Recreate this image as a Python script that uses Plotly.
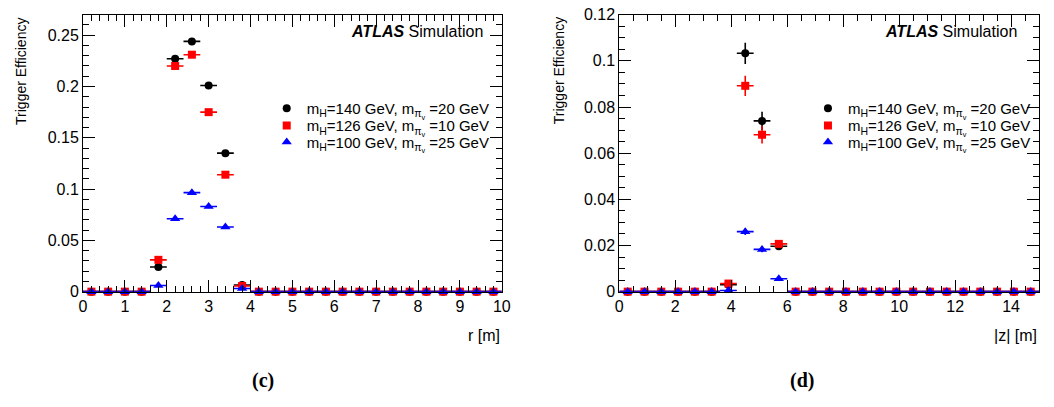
import plotly.graph_objects as go

# ---------------- data ----------------
r_centers = [0.2, 0.6, 1.0, 1.4, 1.8, 2.2, 2.6, 3.0, 3.4, 3.8, 4.2, 4.6, 5.0,
             5.4, 5.8, 6.2, 6.6, 7.0, 7.4, 7.8, 8.2, 8.6, 9.0, 9.4, 9.8]
r_halfwidth = 0.2

eff_r_140 = [0, 0, 0, 0, 0.024, 0.227, 0.244, 0.201, 0.135, 0.0065, 0, 0, 0,
             0, 0, 0, 0, 0, 0, 0, 0, 0, 0, 0, 0]
err_r_140 = [0, 0, 0, 0, 0.0015, 0.003, 0.003, 0.003, 0.0025, 0.0008, 0, 0, 0,
             0, 0, 0, 0, 0, 0, 0, 0, 0, 0, 0, 0]
eff_r_126 = [0, 0, 0, 0, 0.031, 0.220, 0.231, 0.175, 0.114, 0.0055, 0, 0, 0,
             0, 0, 0, 0, 0, 0, 0, 0, 0, 0, 0, 0]
err_r_126 = [0, 0, 0, 0, 0.0015, 0.003, 0.003, 0.003, 0.0025, 0.0008, 0, 0, 0,
             0, 0, 0, 0, 0, 0, 0, 0, 0, 0, 0, 0]
eff_r_100 = [0, 0, 0, 0, 0.006, 0.071, 0.0965, 0.083, 0.063, 0.003, 0, 0, 0,
             0, 0, 0, 0, 0, 0, 0, 0, 0, 0, 0, 0]
err_r_100 = [0, 0, 0, 0, 0.0008, 0.0015, 0.0018, 0.0016, 0.0014, 0.0005, 0, 0, 0,
             0, 0, 0, 0, 0, 0, 0, 0, 0, 0, 0, 0]

z_centers = [0.3, 0.9, 1.5, 2.1, 2.7, 3.3, 3.9, 4.5, 5.1, 5.7, 6.3, 6.9, 7.5,
             8.1, 8.7, 9.3, 9.9, 10.5, 11.1, 11.7, 12.3, 12.9, 13.5, 14.1, 14.7]
z_halfwidth = 0.3

eff_z_140 = [0, 0, 0, 0, 0, 0, 0.003, 0.1033, 0.074, 0.0197, 0, 0, 0,
             0, 0, 0, 0, 0, 0, 0, 0, 0, 0, 0, 0]
err_z_140 = [0, 0, 0, 0, 0, 0, 0.0007, 0.0046, 0.004, 0.0012, 0, 0, 0,
             0, 0, 0, 0, 0, 0, 0, 0, 0, 0, 0, 0]
eff_z_126 = [0, 0, 0, 0, 0, 0, 0.0035, 0.0892, 0.068, 0.0207, 0, 0, 0,
             0, 0, 0, 0, 0, 0, 0, 0, 0, 0, 0, 0]
err_z_126 = [0, 0, 0, 0, 0, 0, 0.0007, 0.0044, 0.0038, 0.0012, 0, 0, 0,
             0, 0, 0, 0, 0, 0, 0, 0, 0, 0, 0, 0]
eff_z_100 = [0, 0, 0, 0, 0, 0, 0.0005, 0.026, 0.0183, 0.0056, 0, 0, 0,
             0, 0, 0, 0, 0, 0, 0, 0, 0, 0, 0, 0]
err_z_100 = [0, 0, 0, 0, 0, 0, 0.0003, 0.0015, 0.0012, 0.0006, 0, 0, 0,
             0, 0, 0, 0, 0, 0, 0, 0, 0, 0, 0, 0]

labels = ["m<sub>H</sub>=140 GeV, m<sub>π<sub>v</sub></sub> =20 GeV",
          "m<sub>H</sub>=126 GeV, m<sub>π<sub>v</sub></sub> =10 GeV",
          "m<sub>H</sub>=100 GeV, m<sub>π<sub>v</sub></sub> =25 GeV"]
colors = ["#000000", "#ff0000", "#0000ff"]
symbols = ["circle", "square", "triangle-up"]
msizes = [8, 8, 9]

FONT = "Liberation Sans, Arial, sans-serif"
W, H = 1054, 407

fig = go.Figure()

def add_series(x, y, err, hw, i, xa, ya, leg):
    fig.add_trace(go.Scatter(
        x=x, y=y, mode="markers", name=labels[i], cliponaxis=False,
        marker=dict(symbol=symbols[i], size=msizes[i], color=colors[i], line=dict(width=0)),
        error_x=dict(type="constant", value=hw, color=colors[i], thickness=1.6, width=0),
        error_y=dict(type="data", array=err, color=colors[i], thickness=1.6, width=0),
        xaxis=xa, yaxis=ya, legend=leg, showlegend=True, hoverinfo="skip"))

for i, (y, e) in enumerate([(eff_r_140, err_r_140), (eff_r_126, err_r_126), (eff_r_100, err_r_100)]):
    add_series(r_centers, y, e, r_halfwidth, i, "x", "y", "legend" if i == 0 else "legend%d" % (i + 1))
for i, (y, e) in enumerate([(eff_z_140, err_z_140), (eff_z_126, err_z_126), (eff_z_100, err_z_100)]):
    add_series(z_centers, y, e, z_halfwidth, i, "x2", "y2", "legend%d" % (i + 4))

ydom = [1 - 296 / H, 1 - 7 / H]
axis_common = dict(showline=True, linecolor="black", linewidth=1, mirror="allticks",
                   ticks="inside", ticklen=12, tickcolor="black", tickwidth=1,
                   showgrid=False, zeroline=False, ticklabeloverflow="allow",
                   tickfont=dict(family=FONT, size=16, color="black"))

legend_rows = [105, 123, 140]
leg_layout = {}
for k in range(6):
    name = "legend" if k == 0 else "legend%d" % (k + 1)
    xl = 266 if k < 3 else 814
    leg_layout[name] = dict(x=xl / W, xanchor="left", y=1 - legend_rows[k % 3] / H, yanchor="middle",
                            bgcolor="rgba(0,0,0,0)", borderwidth=0, itemwidth=30,
                            font=dict(family=FONT, size=15, color="black"))

fig.update_layout(
    width=W, height=H, autosize=False,
    margin=dict(l=0, r=0, t=0, b=0),
    paper_bgcolor="white", plot_bgcolor="white",
    xaxis=dict(domain=[80 / W, 504 / W], range=[0, 10], anchor="y", tick0=0, dtick=1,
               minor=dict(dtick=0.2, ticks="inside", ticklen=6, tickcolor="black", showgrid=False),
               **axis_common),
    yaxis=dict(domain=ydom, range=[0, 0.27], anchor="x", tick0=0, dtick=0.05,
               minor=dict(dtick=0.01, ticks="inside", ticklen=6, tickcolor="black", showgrid=False),
               **axis_common),
    xaxis2=dict(domain=[623 / W, 1048 / W], range=[0, 15], anchor="y2", tick0=0, dtick=2,
                minor=dict(dtick=0.5, ticks="inside", ticklen=6, tickcolor="black", showgrid=False),
                **axis_common),
    yaxis2=dict(domain=ydom, range=[0, 0.12001], anchor="x2", tick0=0, dtick=0.02,
                minor=dict(dtick=0.005, ticks="inside", ticklen=6, tickcolor="black", showgrid=False),
                **axis_common),
    **leg_layout,
)

ann = []
for xr in [487 / W, 1028 / W]:
    ann.append(dict(x=xr, y=1 - 25 / H, xref="paper", yref="paper", xanchor="right", yanchor="middle",
                    text="<b><i>ATLAS</i></b> Simulation", showarrow=False,
                    font=dict(family=FONT, size=16, color="black")))
ann.append(dict(x=504 / W, y=1 - 342 / H, xref="paper", yref="paper", xanchor="right", yanchor="middle",
                text="r [m]", showarrow=False, font=dict(family=FONT, size=16, color="black")))
ann.append(dict(x=1048 / W, y=1 - 342 / H, xref="paper", yref="paper", xanchor="right", yanchor="middle",
                text="|z| [m]", showarrow=False, font=dict(family=FONT, size=16, color="black")))
for xt in [17 / W, 562 / W]:
    ann.append(dict(x=xt, y=1 - 8 / H, xref="paper", yref="paper", xanchor="center", yanchor="top",
                    text="Trigger Efficiency", textangle=-90, showarrow=False,
                    font=dict(family=FONT, size=14, color="black")))
ann.append(dict(x=262 / W, y=1 - 389 / H, xref="paper", yref="paper", xanchor="center", yanchor="middle",
                text="<b>(c)</b>", showarrow=False,
                font=dict(family="Liberation Serif, Times New Roman, serif", size=20, color="black")))
ann.append(dict(x=808 / W, y=1 - 389 / H, xref="paper", yref="paper", xanchor="center", yanchor="middle",
                text="<b>(d)</b>", showarrow=False,
                font=dict(family="Liberation Serif, Times New Roman, serif", size=20, color="black")))
fig.update_layout(annotations=ann)

fig.write_html("out.html", config={"displayModeBar": False},
               post_script="document.body.style.margin='0px';document.body.style.padding='0px';")
